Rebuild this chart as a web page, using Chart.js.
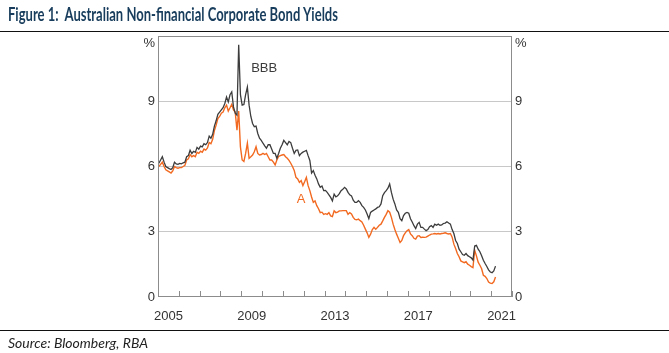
<!DOCTYPE html>
<html><head><meta charset="utf-8">
<script src="https://cdn.jsdelivr.net/npm/chart.js@4"></script>
<style>
html,body{margin:0;padding:0;background:#fff;}
body{width:669px;height:353px;position:relative;overflow:hidden;}
#wrap{position:absolute;left:0;top:0;width:669px;height:353px;}
#title{position:absolute;left:8px;top:3px;font:bold 18px Lato,"Open Sans",sans-serif;color:#183d5c;white-space:nowrap;transform-origin:left top;z-index:2;}
#rule1{position:absolute;left:0;top:31px;width:669px;border-top:1.5px solid #111;z-index:2;}
#rule2{position:absolute;left:0;top:330px;width:669px;border-top:1px solid #111;z-index:2;}
#source{position:absolute;left:8px;top:334px;font:italic 14px Lato,"Open Sans",sans-serif;color:#222;white-space:nowrap;transform-origin:left top;z-index:2;}
</style></head>
<body>
<div id="wrap"><canvas id="c" width="669" height="353"></canvas></div>
<div id="title">Figure 1:&nbsp; Australian Non-financial Corporate Bond Yields</div>
<div id="rule1"></div>
<div id="rule2"></div>
<div id="source">Source: Bloomberg, RBA</div>
<script>
// Monthly yields (%), Jan 2005 to Mar 2021
const firstYear = 2005;
const bbbYield = [
 6.15,6.30,6.45,6.20,6.00,5.95,5.90,5.86,5.95,6.20,6.12,6.10,
 6.14,6.12,6.17,6.20,6.45,6.50,6.75,6.60,6.70,6.65,6.88,6.80,
 6.94,6.90,7.05,7.00,7.10,7.40,7.30,7.48,7.86,8.10,8.40,8.50,
 8.60,8.70,8.90,9.20,8.97,9.30,9.43,8.74,8.45,8.36,11.60,9.30,
 8.82,8.85,9.30,9.65,8.82,8.30,7.98,7.83,7.86,7.52,7.30,7.20,
 7.07,6.95,6.84,7.00,7.00,6.80,6.60,6.60,6.38,6.60,6.84,7.00,
 7.20,7.10,7.00,7.15,7.10,6.84,6.60,6.74,6.76,6.50,6.60,6.66,
 6.70,6.74,6.50,6.28,5.70,5.81,5.60,5.43,5.20,5.04,5.10,4.89,
 4.90,4.81,4.70,4.58,4.42,4.73,4.60,4.65,4.75,4.89,4.95,5.04,
 4.97,4.81,4.70,4.65,4.45,4.35,4.35,4.43,4.35,4.20,4.12,4.00,
 3.82,3.60,3.89,3.95,4.00,4.05,4.12,4.15,4.28,4.66,4.80,4.89,
 5.00,5.20,4.81,4.50,4.28,4.00,3.89,3.60,3.51,3.74,3.85,3.89,
 3.85,3.60,3.45,3.28,3.15,3.35,3.43,3.20,3.20,3.12,3.05,3.10,
 3.23,3.28,3.20,3.35,3.30,3.35,3.30,3.32,3.38,3.40,3.46,3.40,
 3.35,3.10,2.92,2.60,2.46,2.20,2.08,1.95,1.92,2.00,1.90,1.85,
 1.80,1.70,2.35,2.38,2.20,2.08,1.90,1.69,1.54,1.40,1.25,1.15,
 1.12,1.20,1.42
];
const aYield = [
 6.00,6.10,6.20,6.00,5.85,5.80,5.75,5.70,5.80,6.00,5.95,5.92,
 5.95,5.95,6.00,6.05,6.30,6.35,6.55,6.45,6.50,6.45,6.65,6.60,
 6.70,6.65,6.80,6.75,6.85,7.10,7.05,7.25,7.65,7.90,8.20,8.30,
 8.45,8.50,8.70,8.82,8.55,8.70,8.86,8.60,8.50,7.67,8.55,6.90,
 6.30,6.23,6.60,7.07,6.38,6.45,6.53,6.68,6.91,6.60,6.53,6.55,
 6.60,6.55,6.60,6.45,6.30,6.30,6.20,6.07,6.30,6.46,6.50,6.53,
 6.55,6.45,6.38,6.28,6.15,6.00,5.82,5.50,5.43,5.27,5.35,5.12,
 5.30,5.50,5.12,4.89,4.60,4.35,4.42,4.20,4.06,3.88,3.90,3.80,
 3.83,3.80,3.88,3.73,3.70,3.96,3.88,3.90,3.96,3.96,3.97,3.97,
 3.97,3.80,3.88,3.82,3.66,3.57,3.55,3.58,3.51,3.45,3.30,3.12,
 2.95,2.74,2.89,3.10,3.20,3.12,3.20,3.30,3.35,3.50,3.66,3.80,
 3.97,3.90,3.66,3.35,3.10,2.89,2.70,2.51,2.60,2.82,2.95,3.05,
 3.10,2.90,2.82,2.70,2.66,2.80,2.82,2.74,2.75,2.74,2.75,2.80,
 2.85,2.89,2.90,2.92,2.90,2.92,2.90,2.92,2.93,2.95,2.92,2.90,
 2.92,2.75,2.43,2.23,2.00,1.85,1.66,1.62,1.58,1.62,1.51,1.46,
 1.40,1.35,2.15,1.89,1.60,1.46,1.30,1.00,0.95,0.85,0.69,0.64,
 0.62,0.70,0.92
];
const xTickLabels = ['2005','2009','2013','2017','2021'];
const yTickValues = [0,3,6,9];
const seriesNames = ['BBB','A'];

const monthPos = i => firstYear + (i + 0.5) / 12;
const toPts = arr => arr.map((v,i)=>({x: monthPos(i), y: v}));

const COL_BBB = '#3c3c3c', COL_A = '#f26a21';

const decor = {
  id:'decor',
  afterDraw(chart){
    const {ctx, chartArea:a, scales:{x, y}} = chart;
    ctx.save();
    ctx.strokeStyle = '#8c8c8c'; ctx.lineWidth = 1;
    ctx.strokeRect(Math.round(a.left)+0.5, Math.round(a.top)+0.5, Math.round(a.right-a.left)-1, Math.round(a.bottom-a.top)-1);
    for (let yr = Math.ceil(x.min); yr <= x.max; yr++){
      const px = Math.round(x.getPixelForValue(yr)) + 0.5;
      ctx.beginPath(); ctx.moveTo(px, a.bottom); ctx.lineTo(px, a.bottom - 6); ctx.stroke();
    }
    ctx.font = '13px "Liberation Sans", Arial, sans-serif';
    ctx.textAlign = 'center'; ctx.textBaseline = 'middle';
    ctx.fillStyle = COL_BBB;
    ctx.fillText(seriesNames[0], x.getPixelForValue(2010.1), y.getPixelForValue(10.52));
    ctx.fillStyle = COL_A;
    ctx.fillText(seriesNames[1], x.getPixelForValue(2011.87), y.getPixelForValue(4.5));
    ctx.restore();
  }
};

const yTicksWithPct = scale => { scale.ticks = yTickValues.concat([11.65]).map(v=>({value:v})); };
const tickFont = {family:'"Liberation Sans", Arial, sans-serif', size:13};

new Chart(document.getElementById('c'), {
  type:'line',
  data:{ datasets:[
    {label:seriesNames[0], data:toPts(bbbYield), borderColor:COL_BBB, borderWidth:1.3, pointRadius:0, tension:0},
    {label:seriesNames[1], data:toPts(aYield), borderColor:COL_A, borderWidth:1.4, pointRadius:0, tension:0}
  ]},
  options:{
    responsive:false, animation:false, devicePixelRatio:1,
    layout:{padding:{left:0,right:0,top:36,bottom:0}},
    plugins:{legend:{display:false}, tooltip:{enabled:false}},
    scales:{
      x:{type:'linear', min:2005, max:2022,
         grid:{display:false}, border:{display:false},
         afterBuildTicks: s => { s.ticks = xTickLabels.map(l=>({value: +l + 0.5})); },
         afterFit: s => { s.height = 56; },
         ticks:{autoSkip:false, maxRotation:0, padding:4, color:'#333', font:tickFont,
                callback:(v,i)=> xTickLabels[i]}},
      y:{position:'left', min:0, max:12,
         afterBuildTicks: yTicksWithPct,
         afterFit: s => { s.width = 158; },
         border:{display:false},
         grid:{drawTicks:false, color: c => (c.tick && c.tick.value>0 && c.tick.value<10) ? '#c8c8c8' : 'rgba(0,0,0,0)'},
         ticks:{padding:3, color:'#333', font:tickFont, callback: v => v>10 ? '%' : String(v)}},
      y2:{position:'right', min:0, max:12,
         afterBuildTicks: yTicksWithPct,
         afterFit: s => { s.width = 157; },
         border:{display:false},
         grid:{display:false, drawTicks:false},
         ticks:{padding:3, color:'#333', font:tickFont, callback: v => v>10 ? '%' : String(v)}}
    }
  },
  plugins:[decor]
});

function fit(id, w){ const el=document.getElementById(id); const cw=el.getBoundingClientRect().width; el.style.transform='scaleX('+(w/cw)+')'; }
fit('title', 330); fit('source', 140);
</script>
</body></html>
